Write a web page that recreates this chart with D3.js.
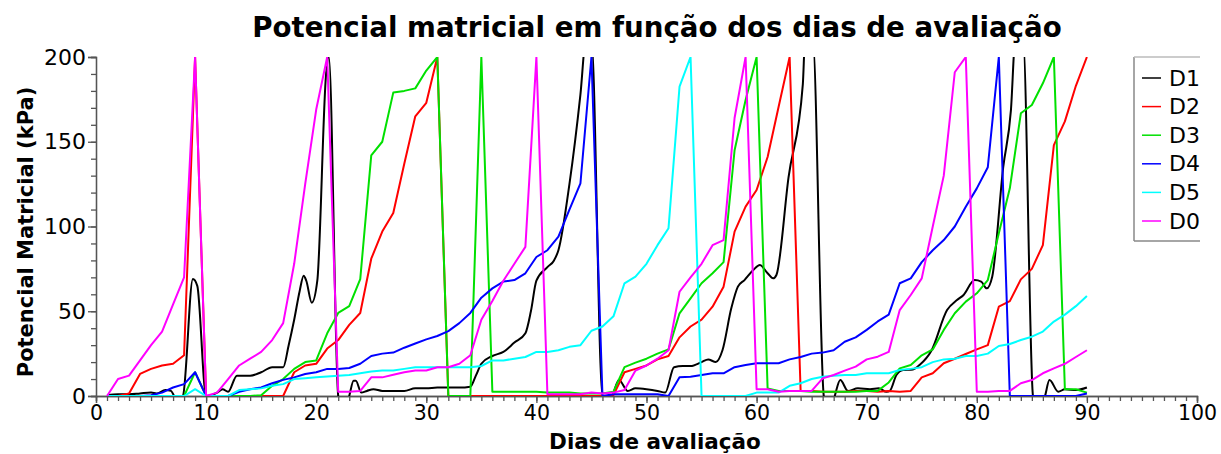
<!DOCTYPE html>
<html lang="pt">
<head>
<meta charset="UTF-8">
<title>Potencial matricial</title>
<script src="https://d3js.org/d3.v7.min.js"></script>
<style>
  body { margin: 0; background: #fff; }
  text { font-family: "DejaVu Sans", Verdana, sans-serif; }
</style>
</head>
<body>
<svg id="chart" width="1221" height="454"></svg>
<script>
// dias 1..90 (D0, D2..D5 lidos a cada dia)
const days = d3.range(1, 91);

const d0 = [0, 10, 12, 21, 30, 38, 54, 70, 200, 0,
  2, 10, 18, 22, 26, 33, 43, 78, 125, 169,
  200, 2.5, 2.5, 3, 11, 11, 12.5, 14, 15, 15,
  17, 17, 19, 24, 45, 56, 68, 78, 88, 200,
  1, 1, 1, 1, 2, 1.5, 2, 3.5, 15, 18,
  22, 27, 61.5, 70, 78, 89, 92, 164, 200, 4,
  4, 2.5, 3, 3, 3, 10.4, 12.4, 15, 17.3, 21.6,
  23.2, 26, 50.7, 59.6, 69.4, 100, 130, 191, 200, 2.5,
  2.5, 3, 3, 7.5, 9.4, 13.4, 16.3, 19, 23, 27];

const d2 = [0, 0, 1.5, 13, 16, 18, 19, 24, 200, 0,
  0, 0, 0, 0, 0, 0, 0, 14, 18, 19,
  28, 33, 42, 49, 81, 97, 108, 137, 165, 173,
  200, 0, 0, 0, 0, 0, 0, 0, 0, 0,
  0, 0, 0, 0, 0, 0, 0.5, 14, 16, 18,
  21.6, 23.6, 34.6, 41, 45, 52.7, 64.5, 97, 111.7, 121.5,
  141, 170.7, 200, 3, 3, 2.5, 2.5, 2.5, 3, 3,
  2.5, 3, 2.5, 3, 11, 13.4, 19.3, 22, 24.8, 27.5,
  30, 52.7, 56, 68.8, 75, 89, 148, 162, 183, 200];

const d3v = [0, 0, 0, 0, 0, 0, 0, 0, 14, 0,
  0, 0, 0, 0, 0.5, 6, 10, 16, 20, 21,
  37, 49, 53, 69, 142, 150, 179, 180, 181.5, 192,
  200, 0, 0, 0, 200, 2.5, 2.5, 2.5, 2.5, 2.5,
  2, 2, 2, 1.5, 1.5, 1.5, 2.5, 17, 19.7, 22,
  25, 27.5, 48.8, 57.6, 66.5, 72.4, 79, 145, 174.6, 200,
  4.5, 3, 3, 3, 2.5, 2.5, 2.5, 2.5, 2.5, 3,
  3, 8, 16.3, 18.3, 24, 27.5, 39, 48.8, 55.7, 60.6,
  68.4, 96, 122.5, 166.8, 171.7, 184.5, 200, 4, 4, 2];

const d4 = [0, 0, 0, 0, 0.5, 2, 5, 7, 14, 0,
  0, 0, 2.5, 4, 5, 7.5, 9.5, 11, 13, 14,
  16, 16, 16.5, 19, 23.6, 25, 25.6, 28.5, 31, 33.4,
  35.4, 38.3, 43, 49, 58, 63.5, 67.5, 68.4, 72.4, 82,
  86, 94, 110, 125.5, 200, 0, 1, 1, 1, 1,
  1, 0, 11, 11.4, 12.4, 13.4, 13.4, 17, 18.3, 19.3,
  19.3, 19.3, 21.6, 23, 25, 25.6, 27, 32, 34.6, 39,
  44, 48, 66.5, 69.4, 79, 86, 92, 100, 111.7, 122.5,
  135, 200, 0, 0, 0, 0, 0, 0, 0, 1.5];

const d5 = [0, 0, 0, 0, 0, 0, 0, 0, 4, 0,
  0, 0, 3.5, 4, 4.5, 6, 7, 10, 10.5, 11,
  11.5, 12, 12.4, 13.4, 14.4, 15, 15, 16, 17, 17,
  17, 17, 17, 17, 17.7, 21, 21, 22, 23, 26,
  26, 27, 29, 30, 38.5, 41, 47, 66.5, 70.4, 78,
  89, 99, 182.5, 200, 0, 0, 0, 0, 0, 2,
  2, 2, 6, 7.5, 10, 11.4, 12, 12.4, 12.4, 13.4,
  13.4, 13.4, 15.3, 16, 17, 20, 21.6, 22, 23.6, 23.6,
  25, 29.5, 30.7, 33, 35, 38, 43.9, 48, 53, 59];

// D1 tem leituras em horarios variados
const d1Days = [1, 2, 3, 4, 5, 5.5, 6.3, 6.8, 7.4, 7.9,
  8.8, 9.2, 10, 10.5, 11, 11.5, 12, 12.8, 14, 15,
  16, 17, 17.5, 18, 18.5, 18.86, 19.1, 19.6, 20.1, 20.9,
  21.15, 22, 22.5, 23, 23.4, 23.6, 24.1, 24.6, 25.2, 26,
  27, 28, 29, 30, 31, 32, 33, 34, 34.5, 35,
  36, 37, 38, 39, 39.5, 40, 41, 41.6, 42, 43,
  44, 44.5, 45, 46, 46.8, 47.5, 48.3, 49, 50, 51,
  51.7, 52.5, 53.3, 54, 55, 55.6, 56.3, 56.9, 57.7, 58.3,
  58.9, 59.7, 60.3, 61, 61.5, 61.8, 62.9, 64.2, 64.4, 65.1,
  66.1, 66.6, 67.1, 67.6, 68.3, 69.2, 70.3, 71.1, 71.8, 72.1,
  72.7, 73.3, 74.2, 74.8, 75.9, 77.3, 78.2, 78.8, 79.8, 80.4,
  80.9, 81.4, 82.4, 83.1, 83.5, 84.2, 85.1, 85.6, 86.2, 86.6,
  87.4, 88, 89, 90];
const d1Values = [0.5, 1, 1, 1.5, 2, 1.5, 3.5, 3, -3, 0,
  69, 65, 0, 0.5, 2, 4, 2.5, 12, 12, 14,
  17, 17, 30, 45, 62, 71, 68, 55, 68, 190,
  200, 0, -12, 0, 9, 9, 2, 3, 4, 3,
  3, 3, 4.5, 4.5, 5, 5, 5, 5.5, 12, 19,
  23.6, 26, 31.5, 37, 50, 68, 76, 80, 86, 125,
  178, 210, 210, 0, 0, 9.5, 3, 4.5, 4, 3,
  2, 17, 17.7, 17.7, 20, 21.6, 20, 27, 51.7, 64.5,
  68.4, 74.3, 77.3, 72.4, 69.4, 71.4, 129, 184, 210, 210,
  0, -12, 0, 9.4, 3, 4.5, 4, 4.5, 2.5, 3,
  12.4, 15.3, 15.7, 18.3, 27, 50.7, 56.6, 59.6, 68.4, 67.5,
  63.5, 70.4, 135, 168.7, 210, 210, 0, -12, 0, 9.4,
  2.5, 4, 3.5, 5];

const names = ['D1', 'D2', 'D3', 'D4', 'D5', 'D0'];
const colors = ['#000000', '#ff0000', '#00e000', '#0000ff', '#00ffff', '#ff00ff'];

const xMajor = d3.range(0, 101, 10);
const xMinor = d3.range(0, 101, 1);
const yMajor = [0, 50, 100, 150, 200];
const yMinor = d3.range(0, 201, 10);

const svg = d3.select('#chart');
const x = d3.scaleLinear().domain([0, 100]).range([96, 1197]);
const y = d3.scaleLinear().domain([0, 200]).range([396, 57]);

svg.append('defs').append('clipPath').attr('id', 'plot-clip')
  .append('rect')
  .attr('x', x(0)).attr('y', y(200))
  .attr('width', x(100) - x(0)).attr('height', y(0) - y(200));

// eixos
const axisColor = '#555';
const gx = svg.append('g').attr('transform', `translate(0,${y(0)})`);
gx.append('g').call(d3.axisBottom(x).tickValues(xMinor).tickSize(5).tickFormat(''));
gx.append('g').call(d3.axisBottom(x).tickValues(xMajor).tickSize(7).tickPadding(2))
  .selectAll('text').attr('font-size', 20.5).attr('fill', '#000')
  .style('font-family', '"DejaVu Sans", Verdana, sans-serif');

const gy = svg.append('g').attr('transform', `translate(${x(0)},0)`);
gy.append('g').call(d3.axisLeft(y).tickValues(yMinor).tickSize(5).tickFormat(''));
gy.append('g').call(d3.axisLeft(y).tickValues(yMajor).tickSize(8).tickPadding(2))
  .selectAll('text').attr('font-size', 22).attr('fill', '#000')
  .style('font-family', '"DejaVu Sans", Verdana, sans-serif');

svg.selectAll('.domain, .tick line').attr('stroke', axisColor).attr('stroke-width', 1.3);

// series
const series = [
  d1Days.map((d, i) => [d, d1Values[i]]),
  days.map((d, i) => [d, d2[i]]),
  days.map((d, i) => [d, d3v[i]]),
  days.map((d, i) => [d, d4[i]]),
  days.map((d, i) => [d, d5[i]]),
  days.map((d, i) => [d, d0[i]])
];

const lineLinear = d3.line().x(d => x(d[0])).y(d => y(d[1]));
const lineSmooth = d3.line().x(d => x(d[0])).y(d => y(d[1])).curve(d3.curveMonotoneX);

const plot = svg.append('g').attr('clip-path', 'url(#plot-clip)');
series.forEach((s, i) => {
  plot.append('path')
    .attr('d', i === 0 ? lineSmooth(s) : lineLinear(s))
    .attr('fill', 'none')
    .attr('stroke', colors[i])
    .attr('stroke-width', 2)
    .attr('stroke-linejoin', 'round');
});

// titulos
svg.append('text')
  .attr('x', 657).attr('y', 37)
  .attr('text-anchor', 'middle')
  .attr('font-size', 27.7).attr('font-weight', 'bold')
  .text('Potencial matricial em função dos dias de avaliação');

svg.append('text')
  .attr('x', 655).attr('y', 448.5)
  .attr('text-anchor', 'middle')
  .attr('font-size', 21.5).attr('font-weight', 'bold')
  .text('Dias de avaliação');

svg.append('text')
  .attr('transform', 'translate(33,232) rotate(-90)')
  .attr('text-anchor', 'middle')
  .attr('font-size', 21).attr('font-weight', 'bold')
  .text('Potencial Matricial (kPa)');

// legenda
const lg = svg.append('g');
lg.append('path').attr('d', 'M1134,241 L1134,57').attr('stroke', '#888').attr('stroke-width', 1.5).attr('fill', 'none');
lg.append('path').attr('d', 'M1134,57 L1200,57').attr('stroke', '#bbb').attr('stroke-width', 1.5).attr('fill', 'none');
lg.append('path').attr('d', 'M1134,241 L1200,241').attr('stroke', '#888').attr('stroke-width', 1.5).attr('fill', 'none');

names.forEach((n, i) => {
  const yy = 78 + i * 28.6;
  lg.append('line')
    .attr('x1', 1142).attr('x2', 1161)
    .attr('y1', yy).attr('y2', yy)
    .attr('stroke', colors[i]).attr('stroke-width', 1.5);
  lg.append('text')
    .attr('x', 1169).attr('y', yy)
    .attr('dominant-baseline', 'central')
    .attr('font-size', 22)
    .text(n);
});
</script>
</body>
</html>
